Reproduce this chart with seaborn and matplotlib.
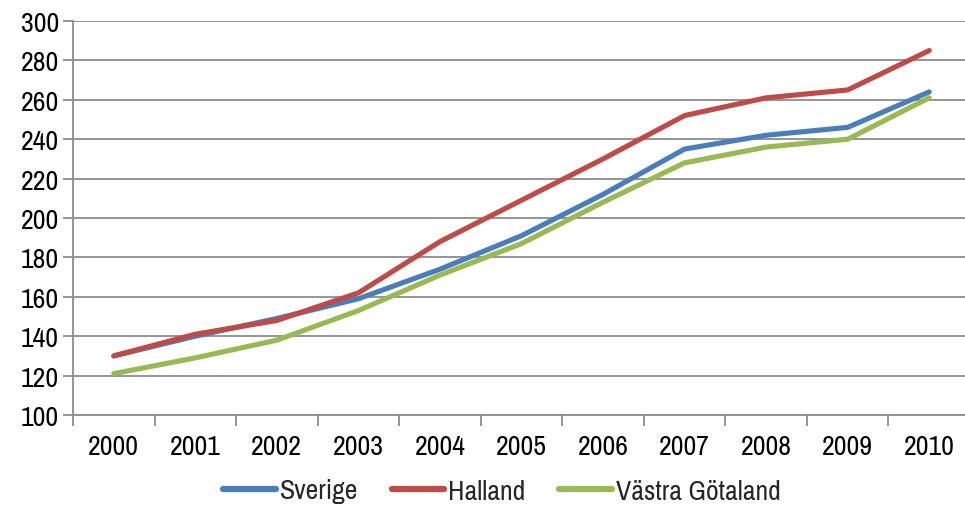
import matplotlib
matplotlib.use("Agg")
import matplotlib.pyplot as plt
import seaborn as sns
import pandas as pd
import numpy as np

years = ["2000", "2001", "2002", "2003", "2004", "2005", "2006", "2007", "2008", "2009", "2010"]
sverige = [130, 140, 149, 159, 174, 191, 212, 235, 242, 246, 264]
halland = [130, 141, 148, 162, 188, 209, 230, 252, 261, 265, 285]
vastra_gotaland = [121, 129, 138, 153, 171, 187, 208, 228, 236, 240, 261]
series_names = ["Sverige", "Halland", "Västra Götaland"]
colors = ["#4A7EBB", "#BE4B48", "#98B954"]

rows = []
for name, vals in zip(series_names, [sverige, halland, vastra_gotaland]):
    for i, (y, v) in enumerate(zip(years, vals)):
        rows.append({"pos": i, "year": y, "value": v, "serie": name})
df = pd.DataFrame(rows)

sns.set_theme(style="white")
plt.rcParams['font.family'] = ['Archivo Narrow', 'DejaVu Sans']
FS = 20

fig = plt.figure(figsize=(9.65, 5.06), dpi=100)
ax = fig.add_axes([73/965, 1-416/506, (970-73)/965, (416-22)/506])

sns.lineplot(data=df, x="pos", y="value", hue="serie", palette=colors,
             hue_order=series_names, linewidth=3.7, ax=ax, legend=True)
for ln in ax.get_lines():
    ln.set_solid_capstyle("round")

ax.set_xlim(-0.5, len(years) - 0.5)
ax.set_ylim(100, 300)
ax.set_yticks(np.arange(100, 301, 20))
ax.yaxis.grid(True, color="#8C8C8C", linewidth=1.3)
ax.xaxis.grid(False)
ax.set_xticks(range(len(years)))
ax.set_xticklabels(years)
ax.set_xticks(np.arange(-0.5, len(years), 1), minor=True)
ax.tick_params(axis="x", which="major", length=0, pad=14, labelsize=FS, colors="black")
ax.tick_params(axis="x", which="minor", length=8, width=1.3, color="#8C8C8C", direction="out", bottom=True)
ax.tick_params(axis="y", length=7, width=1.3, color="#8C8C8C", direction="out", left=True,
               labelsize=FS, pad=3, labelcolor="black")
for s in ["top", "right"]:
    ax.spines[s].set_visible(False)
for s in ["left", "bottom"]:
    ax.spines[s].set_color("#8C8C8C")
    ax.spines[s].set_linewidth(1.3)
ax.set_xlabel("")
ax.set_ylabel("")

h, l = ax.get_legend_handles_labels()
ax.legend_.remove()
leg = fig.legend(h, l, loc="center", bbox_to_anchor=(0.52, 1-492/506), ncol=3, frameon=False,
                 fontsize=FS, handlelength=1.9, handletextpad=0.15, columnspacing=1.2)
for ln in leg.get_lines():
    ln.set_linewidth(4.5)
    ln.set_solid_capstyle("round")

fig.savefig("out.png", dpi=100)
